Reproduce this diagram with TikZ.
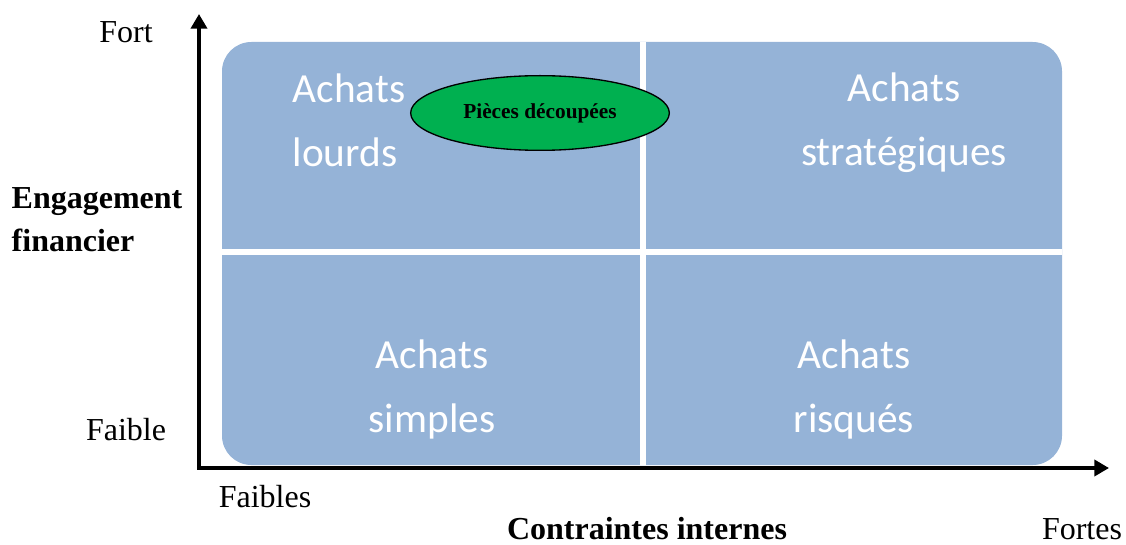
\documentclass[tikz,border=0pt]{standalone}
\usepackage{fontspec}
\setmainfont{Liberation Serif}
\newfontfamily\calibri{Carlito}
\usepackage{tikz}
\usetikzlibrary{positioning,shapes.geometric,arrows.meta}
\definecolor{quadblue}{HTML}{95B3D7}
\definecolor{piecegreen}{HTML}{00B050}

\begin{document}
\begin{tikzpicture}[x=0.75pt,y=-0.75pt,
  quad/.style={text=white,font=\calibri\fontsize{31}{48}\selectfont,align=center},
  axislabel/.style={font=\fontsize{24}{32}\selectfont},
  boldlabel/.style={font=\bfseries\fontsize{24}{32}\selectfont},
  axis/.style={line width=3pt,{Triangle[width=12pt,length=11pt]}-{Triangle[width=12pt,length=11pt]}}]
\useasboundingbox (0,0) rectangle (1126,545);

\fill[quadblue,rounded corners=22pt] (222,42) rectangle (1062,465);
\draw[white,line width=4.5pt] (643,42) -- (643,465) (222,252) -- (1062,252);

\coordinate (origin) at (199,468); \coordinate (ytop) at (199,14); \coordinate (xend) at (1109,468);
\draw[axis] (ytop) -- (origin) -- (xend);

\node[quad,align=left,anchor=west] (lourds) at (288,120) {Achats\\lourds};
\node[quad] (strat) at (904,123) {Achats\\stratégiques};
\node[quad] (simples) at (432,389) {Achats\\simples};
\node[quad] (risques) at (854,389) {Achats\\risqués};

\node[ellipse,draw,fill=piecegreen,line width=1pt,minimum width=194pt,minimum height=56pt,
  font=\bfseries\fontsize{16}{19}\selectfont] (pieces) at (540,113) {Pièces découpées};

\node[axislabel] (fort) at (126,32) {Fort};
\node[axislabel] (faible) at (126,430) {Faible};
\node[boldlabel,align=left,anchor=west] (engagement) at (7,220) {Engagement\\financier};
\node[axislabel] (faibles) at (265,497) {Faibles};
\node[boldlabel,inner sep=0pt] (contraintes) at (647,529) {Contraintes internes};
\node[axislabel,inner sep=0pt] (fortes) at (1082,529) {Fortes};
\end{tikzpicture}
\end{document}
